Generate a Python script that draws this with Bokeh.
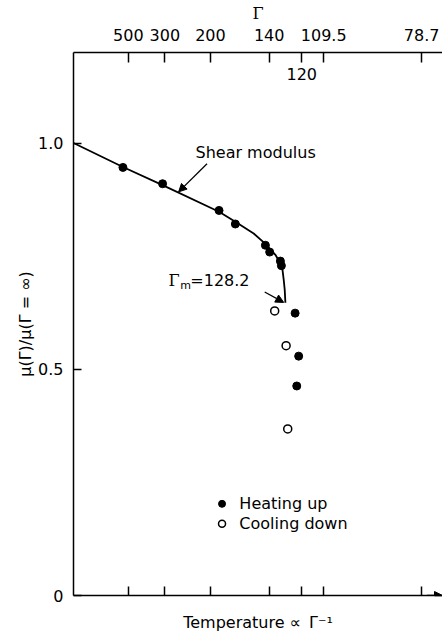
from bokeh.plotting import figure
from bokeh.models import LinearAxis, FixedTicker, Arrow, NormalHead, Range1d, Grid
from bokeh.core.properties import value
from bokeh.embed import file_html
from bokeh.resources import INLINE

# ---- data (x = 1000 / Gamma, i.e. temperature scale) ----
gamma_ticks = [500, 300, 200, 140, 120, 109.5, 78.7]
gamma_tick_labels = ["500", "300", "200", "140", "120", "109.5", "78.7"]

heat_x = [1.805, 3.252, 5.313, 5.908, 7.005, 7.162, 7.552, 7.589, 8.09, 8.22, 8.15]
heat_y = [0.946, 0.910, 0.851, 0.821, 0.774, 0.759, 0.739, 0.729, 0.624, 0.529, 0.463]

cool_x = [7.344, 7.761, 7.82]
cool_y = [0.629, 0.552, 0.368]

curve_x = [0.0, 1.805, 3.252, 5.313, 5.908, 6.577, 7.005, 7.37, 7.615, 7.673, 7.71, 7.735]
curve_y = [1.0, 0.947, 0.907, 0.848, 0.826, 0.800, 0.777, 0.753, 0.727, 0.698, 0.676, 0.647]

y_ticks = [0.0, 0.5, 1.0]
y_tick_labels = ["0", "0.5", "1.0"]

gamma_m = 128.2

FONT = "DejaVu Sans"
SERIF = "DejaVu Serif"

p = figure(width=442, height=634, x_range=Range1d(0, 13.47), y_range=Range1d(0, 1.2),
           output_backend="svg", toolbar_location=None,
           x_axis_location=None, y_axis_location=None,
           min_border_left=73, min_border_right=0, min_border_top=52, min_border_bottom=37,
           outline_line_color=None, background_fill_color="white", border_fill_color="white")
for r in list(p.center):
    if isinstance(r, Grid):
        r.visible = False

xt = [1000.0 / g for g in gamma_ticks]


def style(ax, tick_in):
    ax.axis_line_color = "black"
    ax.axis_line_width = 1.5
    ax.major_tick_line_color = "black"
    ax.major_tick_line_width = 1.5
    ax.major_tick_in = tick_in
    ax.major_tick_out = 0
    ax.minor_tick_in = 0
    ax.minor_tick_out = 0
    ax.major_label_text_font = FONT
    ax.major_label_text_font_size = "16px"
    ax.major_label_text_color = "black"
    ax.axis_label_text_font = FONT
    ax.axis_label_text_font_size = "16px"
    ax.axis_label_text_font_style = "normal"
    ax.axis_label_text_color = "black"


top = LinearAxis(ticker=FixedTicker(ticks=xt),
                 major_label_overrides={t: (l if l != "120" else "") for t, l in zip(xt, gamma_tick_labels)},
                 axis_label="Γ")
style(top, 10)
top.axis_label_text_font = SERIF
top.major_label_standoff = 12
top.axis_label_standoff = 3
p.add_layout(top, "above")

bottom = LinearAxis(ticker=FixedTicker(ticks=xt),
                    major_label_overrides={t: "" for t in xt},
                    axis_label="Temperature ∝\u2002Γ⁻¹")
style(bottom, 9)
bottom.major_label_standoff = 0
bottom.axis_label_standoff = 17
p.add_layout(bottom, "below")

left = LinearAxis(ticker=FixedTicker(ticks=y_ticks),
                  major_label_overrides={t: l for t, l in zip(y_ticks, y_tick_labels)},
                  axis_label="μ(Γ)/μ(Γ = ∞)")
style(left, 8)
left.major_label_standoff = 10
left.axis_label_standoff = 0
p.add_layout(left, "left")

# x-axis arrow head
p.add_layout(Arrow(end=NormalHead(size=8, fill_color="black", line_color="black"),
                   x_start=12.9, y_start=0, x_end=13.47, y_end=0,
                   line_color="black", line_width=1.5))

# curve and data
p.line(curve_x, curve_y, line_color="black", line_width=1.8)
p.scatter(heat_x, heat_y, size=8, marker="circle", fill_color="black", line_color="black")
p.scatter(cool_x, cool_y, size=8, marker="circle", fill_color="white", line_color="black", line_width=1.5)

# label 120 below the top axis
p.text(x=[1000.0 / 120], y=[1.153], text=["120"], text_font=value(FONT), text_font_size="16px",
       text_align="center", text_baseline="middle", text_color="black")

# annotations
p.text(x=[4.454], y=[0.980], text=["Shear modulus"], text_font=value(FONT), text_font_size="16px",
       text_align="left", text_baseline="middle", text_color="black")
p.add_layout(Arrow(end=NormalHead(size=8, fill_color="black", line_color="black"),
                   x_start=4.874, y_start=0.954, x_end=3.837, y_end=0.892,
                   line_color="black", line_width=1.3))

p.text(x=[3.467], y=[0.6954], text=["Γ"], text_font=value(SERIF), text_font_size="16px",
       text_align="left", text_baseline="middle", text_color="black")
p.text(x=[3.90], y=[0.686], text=["m"], text_font=value(FONT), text_font_size="11px",
       text_align="left", text_baseline="middle", text_color="black")
p.text(x=[4.264], y=[0.6954], text=["=%.1f" % gamma_m], text_font=value(FONT), text_font_size="16px",
       text_align="left", text_baseline="middle", text_color="black")
p.add_layout(Arrow(end=NormalHead(size=8, fill_color="black", line_color="black"),
                   x_start=6.979, y_start=0.6706, x_end=7.673, y_end=0.6477,
                   line_color="black", line_width=1.3))

# legend
p.scatter([5.422], [0.2026], size=7, marker="circle", fill_color="black", line_color="black")
p.scatter([5.422], [0.1586], size=7, marker="circle", fill_color="white", line_color="black", line_width=1.5)
p.text(x=[6.055, 6.055], y=[0.2026, 0.1586], text=["Heating up", "Cooling down"],
       text_font=value(FONT), text_font_size="16px", text_align="left", text_baseline="middle",
       text_color="black")

open("out.html", "w").write(file_html(p, INLINE))
